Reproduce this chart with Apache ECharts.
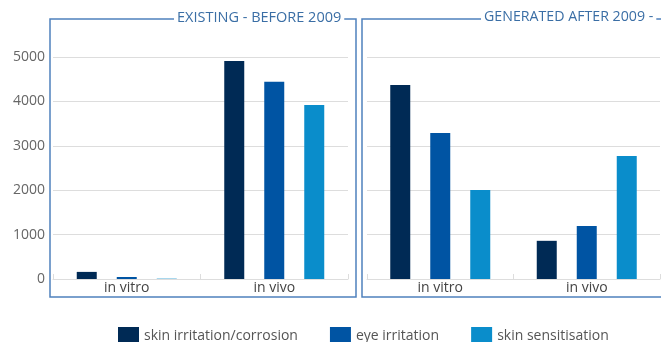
<!DOCTYPE html>
<html>
<head>
<meta charset="utf-8">
<script src="https://cdn.jsdelivr.net/npm/echarts@6/dist/echarts.min.js"></script>
<style>
  html, body { margin: 0; padding: 0; background: #fff; }
  #chart { width: 661px; height: 342px; }
</style>
</head>
<body>
<div id="chart"></div>
<script>
// data
var categories = ['in vitro', 'in vivo'];
var seriesNames = ['skin irritation/corrosion', 'eye irritation', 'skin sensitisation'];
var panelTitles = ['EXISTING - BEFORE 2009', 'GENERATED AFTER 2009 -'];
// before 2009
var skinBefore = [160, 4910];
var eyeBefore = [45, 4440];
var sensBefore = [8, 3920];
// after 2009
var skinAfter = [4370, 860];
var eyeAfter = [3290, 1195];
var sensAfter = [2005, 2770];

var colors = ['#002a55', '#0054a3', '#0a8dcb'];
var font = 'Open Sans';

var myChart = echarts.init(document.getElementById('chart'));

function xAxisFor(idx) {
    return {
        type: 'category',
        gridIndex: idx,
        data: categories,
        axisLine: { lineStyle: { color: '#dddddd', width: 1 } },
        axisTick: { show: true, inside: true, length: 5, lineStyle: { color: '#dddddd' } },
        axisLabel: { color: '#444', fontSize: 14, fontFamily: font, margin: 2 }
    };
}
function yAxisFor(idx, showLabel) {
    return {
        type: 'value',
        gridIndex: idx,
        min: 0,
        max: 5000,
        interval: 1000,
        axisLine: { show: false },
        axisTick: { show: false },
        axisLabel: {
            show: showLabel, color: '#666', fontSize: 14, fontFamily: font, margin: 8,
            formatter: function (v) { return String(v); }
        },
        splitLine: { lineStyle: { color: '#dddddd', width: 1 } }
    };
}
function bar(name, data, idx, color) {
    return {
        name: name,
        type: 'bar',
        xAxisIndex: idx,
        yAxisIndex: idx,
        data: data,
        barWidth: 20,
        barGap: '100%',
        itemStyle: { color: color }
    };
}

var option = {
    animation: false,
    color: colors,
    textStyle: { fontFamily: font },
    grid: [
        { left: 53, top: 57, width: 295, height: 222 },
        { left: 367, top: 57, width: 293, height: 222 }
    ],
    legend: {
        data: seriesNames,
        top: 322,
        left: 113,
        itemWidth: 21,
        itemHeight: 19,
        itemGap: 32,
        icon: 'rect',
        textStyle: { color: '#555', fontSize: 14, fontFamily: font }
    },
    xAxis: [xAxisFor(0), xAxisFor(1)],
    yAxis: [yAxisFor(0, true), yAxisFor(1, false)],
    graphic: [
        { type: 'rect', shape: { x: 50, y: 19, width: 306, height: 278 }, style: { fill: 'none', stroke: '#4f81bd', lineWidth: 1.5 }, z: 100 },
        { type: 'rect', shape: { x: 362, y: 19, width: 305, height: 278 }, style: { fill: 'none', stroke: '#4f81bd', lineWidth: 1.5 }, z: 100 },
        { type: 'text', left: 174, top: 10, z: 101, style: { text: panelTitles[0], fill: '#3a6ea5', fontSize: 14.5, fontFamily: font, backgroundColor: '#fff', padding: [0, 3] } },
        { type: 'text', left: 481, top: 10, z: 101, style: { text: panelTitles[1], fill: '#3a6ea5', fontSize: 14.2, fontFamily: font, backgroundColor: '#fff', padding: [0, 3] } }
    ],
    series: [
        bar(seriesNames[0], skinBefore, 0, colors[0]),
        bar(seriesNames[1], eyeBefore, 0, colors[1]),
        bar(seriesNames[2], sensBefore, 0, colors[2]),
        bar(seriesNames[0], skinAfter, 1, colors[0]),
        bar(seriesNames[1], eyeAfter, 1, colors[1]),
        bar(seriesNames[2], sensAfter, 1, colors[2])
    ]
};

myChart.setOption(option);

window.addEventListener('resize', function () {
    myChart.resize();
});
</script>
</body>
</html>
